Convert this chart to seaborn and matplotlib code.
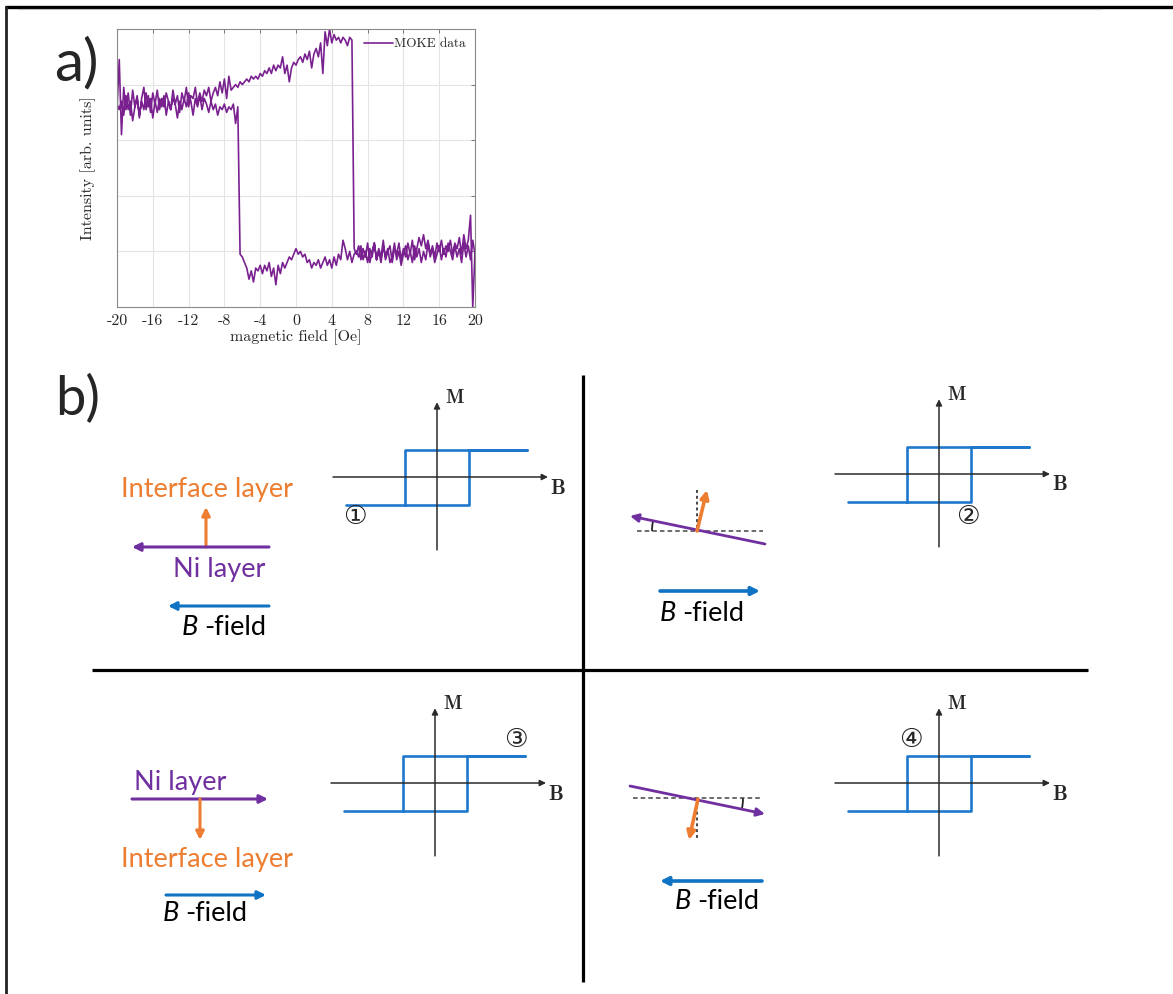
import numpy as np
import pandas as pd
import matplotlib
matplotlib.use("Agg")
import matplotlib.pyplot as plt
import seaborn as sns
from matplotlib.patches import Arc

# ---------------- data: panel a) MOKE hysteresis (read from picture) ----------------
# sweep up (-20 -> +20 Oe), segments
up_hi_y = [3.55, 4.45, 3.10, 3.95, 3.55, 3.85, 3.45, 3.90, 3.60, 3.80, 3.40, 3.75, 3.95,
           3.55, 3.80, 3.50, 3.85, 3.65, 3.90, 3.55, 3.75, 3.60, 3.85, 3.70, 3.55, 3.90,
           3.65, 3.80, 3.50, 3.85, 3.70, 3.95, 3.60, 3.80, 3.75, 3.95, 3.65, 3.85, 3.70,
           3.90, 3.80, 3.95, 3.70, 3.85, 3.95, 3.80, 4.05, 3.85, 4.10,
           3.75, 4.15, 3.90, 3.95, 4.00, 3.95, 4.05, 4.00, 4.05, 4.10, 4.05, 4.15, 4.10,
           4.15, 4.10, 4.20,
           4.15, 4.25, 4.20, 4.30, 4.20, 4.35, 4.25, 4.35, 4.30, 4.50, 4.20, 4.35, 4.05,
           4.30, 4.40, 4.35,
           4.45, 4.50, 4.40, 4.55, 4.45, 4.60, 4.30, 4.55, 4.65, 4.50, 4.75, 4.20, 4.95,
           4.70, 5.00, 4.75,
           4.90, 4.80, 4.85, 4.75, 4.85, 4.80, 4.70, 4.85, 4.80]
up_hi_x = (-20.0, 6.25)
up_lo_y = [1.05, 0.95, 1.10, 0.85, 1.05, 0.90, 1.15, 0.80, 1.00, 1.15, 0.85, 1.05, 0.90,
           1.20, 0.85, 1.00, 1.10, 0.80, 1.05, 0.95, 1.15, 0.85, 1.05, 0.90, 1.15, 0.95,
           1.20, 0.85, 1.05, 1.25, 1.10, 1.30, 1.05, 1.20, 0.95, 1.10, 0.90, 1.15, 1.00,
           1.20, 0.95, 1.10, 1.00, 1.20, 0.95, 1.15, 1.05, 1.25, 0.95, 1.30, 1.05, 1.20,
           1.65, 0.00, 1.00]
up_lo_x = (6.5, 20.0)
# sweep down (+20 -> -20 Oe), segments
dn_lo_y = [0.95, 1.20, 0.85, 1.10, 0.90, 1.15, 0.80, 1.05, 0.90, 1.10, 0.85, 1.00, 1.15,
           0.90, 1.05, 0.85, 1.10, 0.95, 0.80, 1.05, 0.90, 1.15, 0.85, 1.00, 0.80, 1.05,
           0.90, 1.10, 0.80, 1.00, 0.85, 1.10, 0.95, 0.75, 1.00, 0.85, 1.15, 0.90, 0.80,
           1.05, 0.90, 1.10, 0.80, 1.00, 0.85, 1.15, 0.90, 1.05, 0.80, 1.00, 0.85, 1.10,
           0.90, 1.00,
           0.95, 0.80, 1.00, 0.85, 1.05, 1.20, 0.85, 0.95, 0.75, 0.90, 0.70, 0.85, 0.75,
           0.90, 0.80, 0.70, 0.85, 0.75, 0.80, 0.70, 0.85, 0.80, 0.95, 0.90, 1.00, 0.95,
           1.05, 0.95, 0.85, 0.90, 0.80, 0.70, 0.80, 0.60, 0.75, 0.40, 0.70, 0.55, 0.80,
           0.65, 0.75, 0.60, 0.75, 0.65, 0.70, 0.45, 0.65, 0.50, 0.70, 0.80, 0.90, 0.95]
dn_lo_x = (20.0, -6.25)
dn_hi_y = [3.60, 3.30, 3.65, 3.55, 3.60, 3.50, 3.65, 3.55, 3.60, 3.45, 3.65, 3.55, 3.70,
           3.50, 3.65, 3.75, 3.55, 3.80, 3.60, 3.75, 3.45, 3.70, 3.85, 3.60, 3.75, 3.55,
           3.70, 3.40, 3.65, 3.75, 3.55, 3.70, 3.45, 3.80, 3.60, 3.75, 3.50, 3.70, 3.40,
           3.75, 3.60, 3.85, 3.55, 3.70, 3.45, 3.75, 3.60, 3.35, 3.70, 3.55, 3.80, 3.45,
           3.70, 3.55, 3.65]
dn_hi_x = (-6.5, -20.0)

xtick_vals = [-20, -16, -12, -8, -4, 0, 4, 8, 12, 16, 20]
xtick_labels = ["-20", "-16", "-12", "-8", "-4", "0", "4", "8", "12", "16", "20"]
ytick_vals = [1, 2, 3, 4]

# ---------------- data: panel b) schematic loops ----------------
loop_B = [-2.85, 1.0, 1.0, 2.8, -1.0, -1.0]
loop_M = [-1.0, -1.0, 1.0, 1.0, 1.0, -1.0]
loop_ids = ["\u2460", "\u2461", "\u2462", "\u2463"]
loop_id_pos = [(-2.56, -1.45), (0.9, -1.56), (2.53, 1.56), (-0.88, 1.56)]

MOKE_C = "#7a2190"
LOOP_C = "#1f78cc"
BLUE = "#0f72c2"
ORANGE = "#ed7d31"
PURPLE = "#7030a0"
GRAYAX = "#2b2b2b"

sns.set_style("white")
plt.rcParams["axes.unicode_minus"] = False

W, H = 1173, 994
fig = plt.figure(figsize=(W / 100, H / 100), dpi=100)

# overlay in pixel coordinates
ov = fig.add_axes([0, 0, 1, 1])
ov.set_xlim(0, W)
ov.set_ylim(H, 0)
ov.axis("off")
ov.patch.set_alpha(0)

# border
ov.plot([5, W], [7, 7], color="black", lw=2.4, solid_capstyle="butt")
ov.plot([6, 6], [6, H], color="#222", lw=2.0, solid_capstyle="butt")
ov.plot([18, 1102], [9, 9], color="#bbbbbb", lw=0.8)

# panel labels
ov.text(54, 80, "a)", family="Lato", fontsize=42, ha="left", va="baseline")
ov.text(55, 415, "b)", family="Lato", fontsize=39, ha="left", va="baseline")

# cross dividers
ov.plot([92, 1088], [670, 670], color="black", lw=2.3, solid_capstyle="butt")
ov.plot([583, 583], [375, 982], color="black", lw=2.3, solid_capstyle="butt")


def arrow(x0, y0, x1, y1, color, lw=2.2, ms=12):
    ov.annotate("", xy=(x1, y1), xytext=(x0, y0),
                arrowprops=dict(arrowstyle="-|>", color=color, lw=lw,
                                mutation_scale=ms, shrinkA=0, shrinkB=0))


FS = 19.5


def bfield(xB, xf, base):
    ov.text(xB, base, "B", family="Lato", style="italic", fontsize=FS,
            ha="left", va="baseline", color="black")
    ov.text(xf, base, "-field", family="Lato", fontsize=FS,
            ha="left", va="baseline", color="black")


# quadrant 1
ov.text(207, 497, "Interface layer", family="Lato", fontsize=FS, color=ORANGE,
        ha="center", va="baseline")
arrow(206, 547, 206, 507, ORANGE)
arrow(269, 547, 132, 547, PURPLE)
ov.text(219, 577, "Ni layer", family="Lato", fontsize=FS, color=PURPLE,
        ha="center", va="baseline")
arrow(269, 606, 168, 606, BLUE)
bfield(182, 204, 635)

# quadrant 2
ov.plot([637, 763], [531, 531], color="#444", lw=1.1, ls=(0, (3, 2)))
ov.plot([697, 697], [490, 530], color="#444", lw=1.4, ls=(0, (1.5, 1.5)))
arrow(765, 544, 630, 516, PURPLE, lw=2.0)
arrow(697, 531, 707, 490, ORANGE, lw=2.6)
ov.add_patch(Arc((700, 531), 96, 96, theta1=180, theta2=192, color="#222", lw=1.3))
arrow(660, 591, 760, 591, BLUE, lw=2.6)
bfield(660, 682, 621)

# quadrant 3
ov.text(180, 790, "Ni layer", family="Lato", fontsize=FS, color=PURPLE,
        ha="center", va="baseline")
arrow(132, 799, 268, 799, PURPLE)
arrow(200, 799, 200, 840, ORANGE)
ov.text(207, 867, "Interface layer", family="Lato", fontsize=FS, color=ORANGE,
        ha="center", va="baseline")
arrow(166, 895, 266, 895, BLUE)
bfield(163, 185, 921)

# quadrant 4
ov.plot([633, 760], [798, 798], color="#444", lw=1.1, ls=(0, (3, 2)))
ov.plot([697, 697], [800, 840], color="#444", lw=1.4, ls=(0, (1.5, 1.5)))
arrow(630, 786, 765, 814, PURPLE, lw=2.0)
arrow(698, 799, 689, 840, ORANGE, lw=2.6)
ov.add_patch(Arc((690, 798), 106, 106, theta1=0, theta2=12, color="#222", lw=1.3))
arrow(762, 881, 660, 881, BLUE, lw=2.6)
bfield(675, 697, 909)

# hysteresis schematic insets
centers = [(437, 477), (939, 474), (435, 783), (939, 783)]
PX_B, PX_M = 32.0, 27.5
B_lim = (-3.25, 3.47)
M_lim = (-2.65, 2.72)
for (cx, cy), lab, (lx, ly) in zip(centers, loop_ids, loop_id_pos):
    left = cx + B_lim[0] * PX_B
    right = cx + B_lim[1] * PX_B
    top = cy - M_lim[1] * PX_M
    bottom = cy - M_lim[0] * PX_M
    a = fig.add_axes([left / W, 1 - bottom / H, (right - left) / W, (bottom - top) / H])
    a.set_xlim(*B_lim)
    a.set_ylim(*M_lim)
    a.axis("off")
    a.patch.set_alpha(0)
    a.annotate("", xy=(B_lim[1], 0), xytext=(B_lim[0], 0),
               arrowprops=dict(arrowstyle="-|>", color=GRAYAX, lw=1.1,
                               mutation_scale=9, shrinkA=0, shrinkB=0))
    a.annotate("", xy=(0, M_lim[1]), xytext=(0, M_lim[0]),
               arrowprops=dict(arrowstyle="-|>", color=GRAYAX, lw=1.1,
                               mutation_scale=9, shrinkA=0, shrinkB=0))
    sns.lineplot(x=loop_B, y=loop_M, sort=False, estimator=None, color=LOOP_C,
                 lw=1.9, ax=a)
    a.text(0.56, 2.87, "M", family="cmb10", fontsize=14, ha="center", va="center",
           clip_on=False)
    a.text(3.78, -0.40, "B", family="cmb10", fontsize=15, ha="center", va="center",
           clip_on=False)
    a.text(lx, ly, lab, family=["DejaVu Sans", "Noto Sans CJK SC"], fontsize=19,
           ha="center", va="center", clip_on=False)

# ---------------- panel a) ----------------
def seg(lim, vals):
    return np.linspace(lim[0], lim[1], len(vals))

field = np.concatenate([seg(up_hi_x, up_hi_y), seg(up_lo_x, up_lo_y),
                        seg(dn_lo_x, dn_lo_y), seg(dn_hi_x, dn_hi_y)])
inten = np.concatenate([up_hi_y, up_lo_y, dn_lo_y, dn_hi_y])
df = pd.DataFrame({"field": field, "intensity": inten})

ax = fig.add_axes([117 / W, 1 - 307 / H, 358 / W, 278 / H])
sns.lineplot(data=df, x="field", y="intensity", sort=False, estimator=None,
             color=MOKE_C, lw=1.2, label="MOKE data", ax=ax)
ax.set_xlim(-20, 20)
ax.set_ylim(0, 5)
ax.set_xticks(xtick_vals)
ax.set_xticklabels(xtick_labels, family="cmr10", fontsize=11.5)
ax.set_yticks(ytick_vals)
ax.set_yticklabels([])
ax.set_axisbelow(True)
ax.grid(True, color="#e4e4e4", lw=0.8)
ax.tick_params(direction="in", top=True, right=True, length=3, width=0.6,
               color="#666", pad=5)
for s in ax.spines.values():
    s.set_color("#8a8a8a")
    s.set_linewidth(0.8)
ax.set_xlabel("magnetic field [Oe]", family="cmr10", fontsize=11.5, labelpad=1)
ax.set_ylabel("Intensity [arb. units]", family="cmr10", fontsize=11.5, labelpad=10)
ax.legend(loc="upper right", frameon=False, prop={"family": "cmr10", "size": 9.5},
          handlelength=2.2, handletextpad=0.1, borderaxespad=0.3)

fig.savefig("out.png", dpi=100)
